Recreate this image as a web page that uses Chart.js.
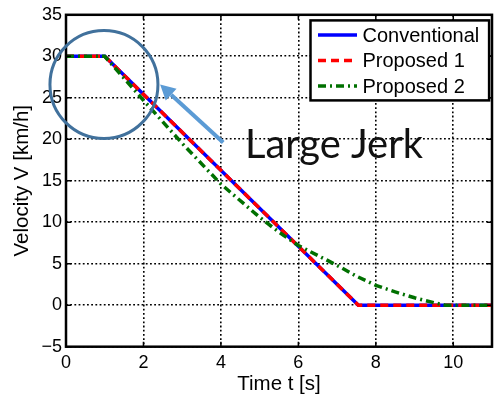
<!DOCTYPE html>
<html><head><meta charset="utf-8">
<script src="https://cdn.jsdelivr.net/npm/chart.js@4.4.1/dist/chart.umd.min.js"></script>
<style>html,body{margin:0;padding:0;background:#fff}#c{display:block}</style>
</head><body>
<canvas id="c" width="494" height="401"></canvas>
<script>
// ---- data ----
const seriesNames = ['Conventional', 'Proposed 1', 'Proposed 2'];
const convT  = [0, 1, 7.55, 11];
const convV  = [30, 30, 0, 0];
const prop1T = [0, 1, 7.55, 11];
const prop1V = [30, 30, 0, 0];
const prop2T = [0, 1, 2, 3, 4, 5, 5.5, 6, 6.5, 7, 7.5, 8, 8.5, 9, 9.5, 9.8, 11];
const prop2V = [30, 30, 24.7, 19.5, 14.6, 10.6, 8.8, 7.2, 6.0, 4.8, 3.5, 2.4, 1.6, 0.9, 0.3, 0, 0];
const xTicks = [0, 2, 4, 6, 8, 10];
const yTicks = [-5, 0, 5, 10, 15, 20, 25, 30, 35];
const xTitle = 'Time t [s]';
const yTitle = 'Velocity V [km/h]';
const noteText = 'Large Jerk';
// annotation anchors (data coordinates)
const circleNote = {t: 0.98, v: 26.6, r: 54};
const arrowNote = {fromT: 4.06, fromV: 19.6, toT: 2.43, toV: 26.6};
const textNote = {t: 4.62, v: 17.8};

const SANS = '"Liberation Sans", Arial, Helvetica, sans-serif';

function mk(name, T, V, color, dash, order) {
  return {
    label: name,
    data: T.map((t, i) => ({x: t, y: V[i]})),
    borderColor: color, backgroundColor: color,
    borderWidth: 3.5, borderDash: dash,
    borderCapStyle: 'butt', borderJoinStyle: 'miter',
    pointRadius: 0, fill: false, tension: 0, order: order
  };
}

const datasets = [
  mk(seriesNames[0], convT, convV, '#0000ff', [], 2),
  mk(seriesNames[1], prop1T, prop1V, '#ff0000', [8, 5], 1),
  mk(seriesNames[2], prop2T, prop2V, '#007000', [8, 4, 2, 4], 0)
];

const decor = {
  id: 'decor',
  afterDatasetsDraw(chart) {
    const ctx = chart.ctx, a = chart.chartArea;
    const xs = chart.scales.x, ys = chart.scales.y;
    ctx.save();
    // inner ticks
    ctx.strokeStyle = '#000'; ctx.lineWidth = 1.5; ctx.setLineDash([]);
    const tl = 5;
    xTicks.forEach(v => {
      const px = xs.getPixelForValue(v);
      ctx.beginPath();
      ctx.moveTo(px, a.bottom); ctx.lineTo(px, a.bottom - tl);
      ctx.moveTo(px, a.top); ctx.lineTo(px, a.top + tl);
      ctx.stroke();
    });
    yTicks.forEach(v => {
      const py = ys.getPixelForValue(v);
      ctx.beginPath();
      ctx.moveTo(a.left, py); ctx.lineTo(a.left + tl, py);
      ctx.moveTo(a.right, py); ctx.lineTo(a.right - tl, py);
      ctx.stroke();
    });
    // frame
    ctx.lineWidth = 2.5;
    ctx.strokeRect(a.left, a.top, a.right - a.left, a.bottom - a.top);

    // axis titles
    ctx.fillStyle = '#000';
    ctx.font = '20.5px ' + SANS;
    ctx.textAlign = 'center'; ctx.textBaseline = 'alphabetic';
    ctx.fillText(xTitle, (a.left + a.right) / 2, a.bottom + 43.5);
    ctx.save();
    ctx.translate(28, (a.top + a.bottom) / 2);
    ctx.rotate(-Math.PI / 2);
    ctx.fillText(yTitle, 0, 0);
    ctx.restore();

    // legend
    const lx = a.right - 181.5, ly = a.top + 5.6, lw = 178.6, lh = 80;
    ctx.fillStyle = '#fff';
    ctx.fillRect(lx, ly, lw, lh);
    ctx.lineWidth = 2.5; ctx.strokeStyle = '#000';
    ctx.strokeRect(lx, ly, lw, lh);
    ctx.font = '20px ' + SANS;
    ctx.textAlign = 'left'; ctx.textBaseline = 'middle';
    chart.data.datasets.forEach((d, i) => {
      const ry = ly + 14.7 + i * 25.5;
      ctx.save();
      ctx.strokeStyle = d.borderColor; ctx.lineWidth = 3.5;
      ctx.setLineDash(d.borderDash); ctx.lineCap = 'butt';
      ctx.beginPath(); ctx.moveTo(lx + 7.5, ry); ctx.lineTo(lx + 46.5, ry); ctx.stroke();
      ctx.restore();
      ctx.fillStyle = '#000';
      ctx.fillText(d.label, lx + 52, ry + 1);
    });

    // annotations
    ctx.setLineDash([]);
    ctx.strokeStyle = '#41719c'; ctx.lineWidth = 3;
    ctx.beginPath();
    ctx.arc(xs.getPixelForValue(circleNote.t), ys.getPixelForValue(circleNote.v), circleNote.r, 0, Math.PI * 2);
    ctx.stroke();

    const x1 = xs.getPixelForValue(arrowNote.fromT), y1 = ys.getPixelForValue(arrowNote.fromV);
    const x2 = xs.getPixelForValue(arrowNote.toT), y2 = ys.getPixelForValue(arrowNote.toV);
    const ang = Math.atan2(y2 - y1, x2 - x1);
    const hl = 15, hw = 8;
    const bx = x2 - hl * Math.cos(ang), by = y2 - hl * Math.sin(ang);
    ctx.strokeStyle = '#5b9bd5'; ctx.fillStyle = '#5b9bd5'; ctx.lineWidth = 4;
    ctx.beginPath(); ctx.moveTo(x1, y1); ctx.lineTo(bx, by); ctx.stroke();
    ctx.beginPath();
    ctx.moveTo(x2, y2);
    ctx.lineTo(bx + hw * Math.sin(ang), by - hw * Math.cos(ang));
    ctx.lineTo(bx - hw * Math.sin(ang), by + hw * Math.cos(ang));
    ctx.closePath(); ctx.fill();

    // "Large Jerk": Calibri-like proportions (taller, narrower)
    ctx.fillStyle = '#111';
    ctx.textAlign = 'left'; ctx.textBaseline = 'alphabetic';
    const fs = 40;
    ctx.font = fs + 'px Lato, "Open Sans", sans-serif';
    const w = ctx.measureText(noteText).width;
    const sx = 178 / w;
    ctx.save();
    ctx.translate(xs.getPixelForValue(textNote.t), ys.getPixelForValue(textNote.v));
    ctx.scale(sx, 1);
    ctx.fillText(noteText, 0, 0);
    ctx.restore();
    ctx.restore();
  }
};

new Chart(document.getElementById('c'), {
  type: 'line',
  data: {datasets: datasets},
  options: {
    responsive: false, animation: false, devicePixelRatio: 1,
    layout: {padding: {top: 13.7, right: 2, left: 0, bottom: 0}},
    plugins: {legend: {display: false}, tooltip: {enabled: false}, title: {display: false}},
    scales: {
      x: {
        type: 'linear', min: 0, max: 11,
        afterBuildTicks: s => { s.ticks = xTicks.map(v => ({value: v})); },
        afterFit: s => { s.height = 54.3; },
        ticks: {color: '#000', font: {family: SANS, size: 18}, padding: 6, maxRotation: 0, autoSkip: false},
        grid: {color: '#000', lineWidth: 1.6, drawTicks: false},
        border: {display: false, dash: [1.8, 2.4]}
      },
      y: {
        type: 'linear', min: -5, max: 35,
        afterBuildTicks: s => { s.ticks = yTicks.map(v => ({value: v})); },
        afterFit: s => { s.width = 66; },
        ticks: {color: '#000', font: {family: SANS, size: 18}, padding: 4,
          callback: v => (v < 0 ? '\u2212' + Math.abs(v) : String(v))},
        grid: {color: '#000', lineWidth: 1.6, drawTicks: false},
        border: {display: false, dash: [1.8, 2.4]}
      }
    }
  },
  plugins: [decor]
});
</script>
</body></html>
